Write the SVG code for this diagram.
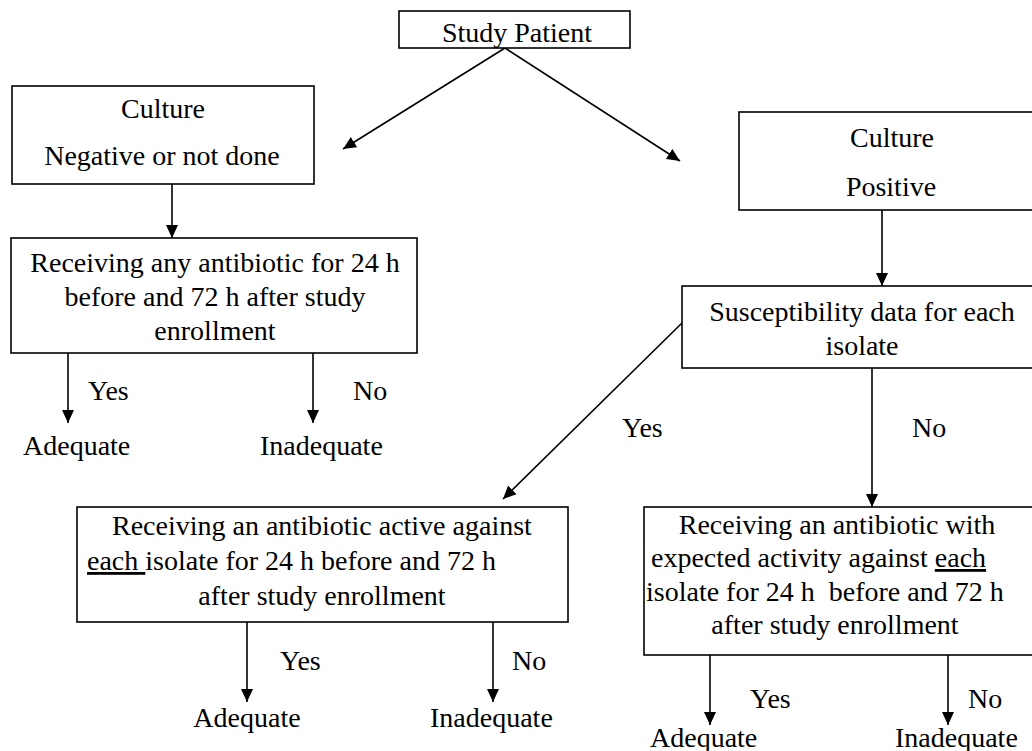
<svg xmlns="http://www.w3.org/2000/svg" width="1032" height="751" viewBox="0 0 1032 751">
<style>
.box{fill:#fff;stroke:#000;stroke-width:1.6}
text{font-family:"Liberation Serif","Times New Roman",serif;font-size:28px;fill:#000}
.m{text-anchor:middle}
.c{stroke:#000;stroke-width:1.6;fill:none;marker-end:url(#ah)}
</style>
<defs>
<marker id="ah" markerWidth="13" markerHeight="13" viewBox="0 0 13 12" refX="13" refY="6" orient="auto" markerUnits="userSpaceOnUse">
<path d="M0,0 L13,6 L0,12 z" fill="#000"/>
</marker>
</defs>
<rect width="1032" height="751" fill="#fff"/>
<g id="connectors">
<line class="c" x1="505" y1="48" x2="343" y2="149"/>
<line class="c" x1="505" y1="48" x2="680" y2="161"/>
<line class="c" x1="172" y1="184" x2="172" y2="238"/>
<line class="c" x1="68" y1="353" x2="68" y2="423"/>
<line class="c" x1="313" y1="353" x2="313" y2="423"/>
<line class="c" x1="882" y1="210" x2="882" y2="286"/>
<line class="c" x1="682" y1="323" x2="503" y2="499"/>
<line class="c" x1="872" y1="368" x2="872" y2="507"/>
<line class="c" x1="247" y1="622" x2="247" y2="702"/>
<line class="c" x1="493" y1="622" x2="493" y2="702"/>
<line class="c" x1="710" y1="655" x2="710" y2="725"/>
<line class="c" x1="948" y1="655" x2="948" y2="725"/>
</g>
<g id="study-patient">
<rect class="box" x="399" y="11" width="231" height="37"/>
<text class="m" x="517" y="42">Study Patient</text>
</g>
<g id="culture-negative">
<rect class="box" x="12" y="86" width="302" height="98"/>
<text class="m" x="163" y="118">Culture</text>
<text class="m" x="162" y="165">Negative or not done</text>
</g>
<g id="any-antibiotic">
<rect class="box" x="11" y="238" width="406" height="115"/>
<text class="m" x="215" y="272">Receiving any antibiotic for 24 h</text>
<text class="m" x="215" y="306">before and 72 h after study</text>
<text class="m" x="215" y="340">enrollment</text>
</g>
<g id="any-yes"><text x="88" y="400">Yes</text></g>
<g id="any-no"><text x="353" y="400">No</text></g>
<g id="any-adequate"><text x="23" y="455">Adequate</text></g>
<g id="any-inadequate"><text x="260" y="455">Inadequate</text></g>
<g id="culture-positive">
<rect class="box" x="739" y="112" width="310" height="98"/>
<text class="m" x="892" y="147">Culture</text>
<text class="m" x="891" y="196">Positive</text>
</g>
<g id="susceptibility">
<rect class="box" x="682" y="286" width="370" height="82"/>
<text class="m" x="862" y="321">Susceptibility data for each</text>
<text class="m" x="862" y="355">isolate</text>
</g>
<g id="susc-yes"><text x="622" y="437">Yes</text></g>
<g id="susc-no"><text x="912" y="437">No</text></g>
<g id="active-against">
<rect class="box" x="77" y="507" width="491" height="115"/>
<text x="112" y="535">Receiving an antibiotic active against</text>
<text x="87" y="570"><tspan text-decoration="underline">each </tspan>isolate for 24 h before and 72 h</text>
<text class="m" x="322" y="605">after study enrollment</text>
</g>
<g id="active-yes"><text x="280" y="670">Yes</text></g>
<g id="active-no"><text x="512" y="670">No</text></g>
<g id="active-adequate"><text class="m" x="247" y="727">Adequate</text></g>
<g id="active-inadequate"><text x="430" y="727">Inadequate</text></g>
<g id="expected-activity">
<rect class="box" x="644" y="507" width="400" height="148"/>
<text class="m" x="837" y="534">Receiving an antibiotic with</text>
<text x="651" y="567">expected activity against <tspan text-decoration="underline">each</tspan></text>
<text x="646" y="601" xml:space="preserve">isolate for 24 h  before and 72 h</text>
<text class="m" x="835" y="634">after study enrollment</text>
</g>
<g id="expected-yes"><text x="750" y="708">Yes</text></g>
<g id="expected-no"><text x="968" y="708">No</text></g>
<g id="expected-adequate"><text x="650" y="747">Adequate</text></g>
<g id="expected-inadequate"><text x="895" y="747">Inadequate</text></g>
</svg>
